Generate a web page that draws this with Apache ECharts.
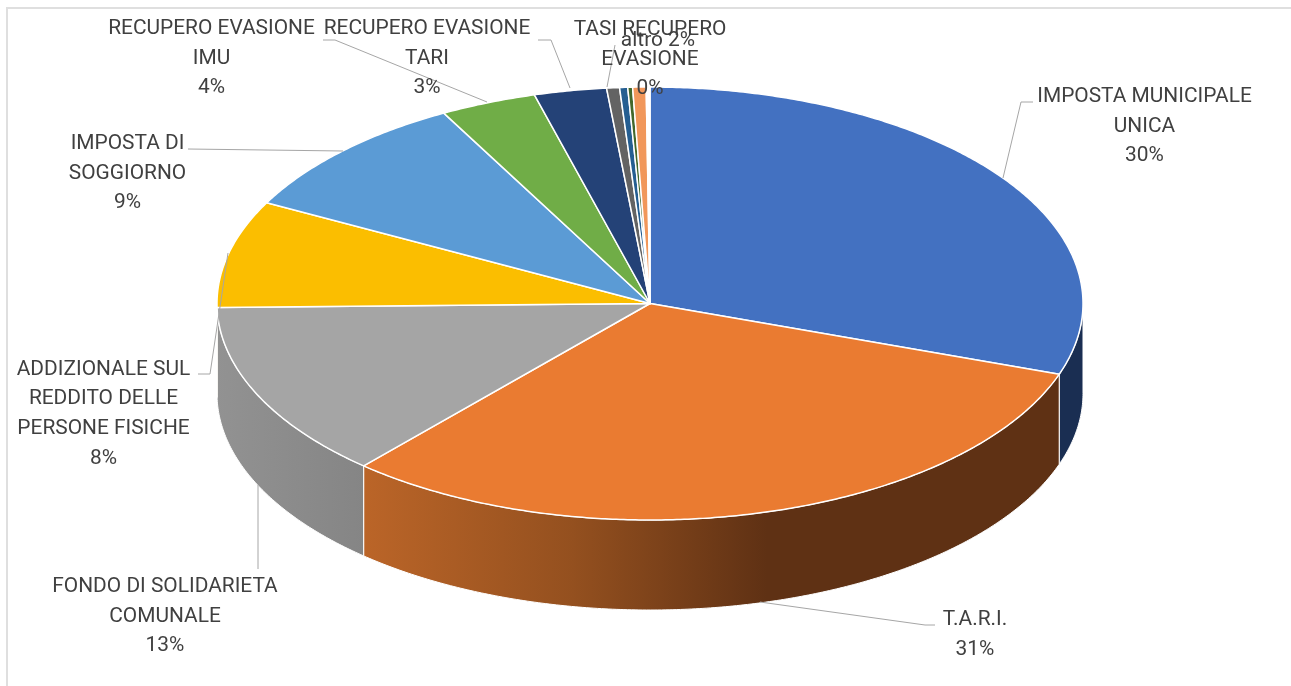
<!DOCTYPE html>
<html>
<head>
<meta charset="utf-8">
<style>html,body{margin:0;padding:0;background:#fff}#c{width:1291px;height:686px}</style>
<script src="https://cdn.jsdelivr.net/npm/echarts@6/dist/echarts.min.js"></script>
</head>
<body>
<div id="c"></div>
<script>
// ---- data (share of the whole pie, %)
const sliceValues = [30.3, 31.2, 13.2, 8.0, 9.4, 3.6, 2.7, 0.48, 0.3, 0.18, 0.5, 0.14];
const sliceNames = [
  'IMPOSTA MUNICIPALE\nUNICA', 'T.A.R.I.', 'FONDO DI SOLIDARIETA\nCOMUNALE',
  'ADDIZIONALE SUL\nREDDITO DELLE\nPERSONE FISICHE', 'IMPOSTA DI\nSOGGIORNO',
  'RECUPERO EVASIONE\nIMU', 'RECUPERO EVASIONE\nTARI', 'altro', '', '', 'TASI RECUPERO\nEVASIONE', ''
];
const percentLabels = ['30%', '31%', '13%', '8%', '9%', '4%', '3%', '2%', '', '', '0%', ''];

// ---- styles and layout, kept apart from the data
const topColors = ['#4371c1', '#ea7b31', '#a5a5a5', '#fbbe00', '#5b9bd5', '#70ad47', '#244277', '#636363', '#255e91', '#43682b', '#f1975a', '#ffffff'];
const wallFills = {
  0: '#1a2e52',
  1: { type: 'linear', x: 0, y: 0, x2: 1, y2: 0, colorStops: [
    { offset: 0, color: '#bb6528' }, { offset: 0.3, color: '#94501f' }, { offset: 0.58, color: '#5f3114' }, { offset: 1, color: '#5f3114' }] },
  2: { type: 'linear', x: 0, y: 0, x2: 1, y2: 0, colorStops: [
    { offset: 0, color: '#929292' }, { offset: 1, color: '#858585' }] }
};
const PIE = { cx: 650, cy: 303.5, rx: 433, ry: 216.5, depth: 90 };
const labelCenters = [
  [1144.5, 126.5], [975, 634.5], [165, 616.5], [103.5, 414], [127.5, 173.5], [211.5, 58.5], [427, 58.5], [658, 40.5], null, null, [650, 59.5], null
];
const leaders = [
  [[1003, 178], [1021, 102], [1033, 102]],
  [[760, 602], [925, 625], [935, 625]],
  [[258, 485], [258, 569]],
  [[198, 374], [210, 374], [228, 253]],
  [[188, 149], [343, 151]],
  [[487, 102], [335, 40], [323, 40]],
  [[570, 88], [551, 40], [538, 40]],
  [[607, 87], [615, 45]]
];
const FONT = '20.9px Roboto, sans-serif';
const TEXT_COLOR = '#404040';

// ---- geometry: cumulative fractions from the values
const total = sliceValues.reduce((a, b) => a + b, 0);
let run = 0;
const sliceRows = sliceValues.map((v, i) => {
  const row = [i, run / total * 360, (run + v) / total * 360];
  run += v;
  return row;
});
// angle in degrees, clockwise from 12 o'clock, projected onto the tilted ellipse
function pt(deg, dy) {
  const a = deg * Math.PI / 180;
  return [PIE.cx + PIE.rx * Math.sin(a), PIE.cy - PIE.ry * Math.cos(a) + (dy || 0)];
}
function arc(a0, a1, dy) {
  const out = [];
  const n = Math.max(2, Math.ceil(Math.abs(a1 - a0) * 2));
  for (let k = 0; k <= n; k++) out.push(pt(a0 + (a1 - a0) * k / n, dy));
  return out;
}

const chart = echarts.init(document.getElementById('c'), null, { renderer: 'canvas' });
chart.setOption({
  animation: false,
  backgroundColor: '#ffffff',
  graphic: [
    { type: 'line', shape: { x1: 7, y1: 8, x2: 1291, y2: 8 }, style: { stroke: '#dfdfdf', lineWidth: 2 }, z: 0 },
    { type: 'line', shape: { x1: 7, y1: 7, x2: 7, y2: 686 }, style: { stroke: '#dfdfdf', lineWidth: 2 }, z: 0 }
  ],
  series: [
    { // side walls: only the front half of the disc shows
      type: 'custom', coordinateSystem: 'none', silent: true, z: 2, data: sliceRows,
      renderItem(p, api) {
        const i = api.value(0);
        const a0 = Math.max(api.value(1), 90), a1 = Math.min(api.value(2), 270);
        if (a1 <= a0) return { type: 'group', children: [] };
        const points = arc(a0, a1, 0).concat(arc(a1, a0, PIE.depth));
        return { type: 'polygon', shape: { points }, style: { fill: wallFills[i] || topColors[i], stroke: '#ffffff', lineWidth: 1 } };
      }
    },
    { // top faces
      type: 'custom', coordinateSystem: 'none', silent: true, z: 3, data: sliceRows,
      renderItem(p, api) {
        const i = api.value(0);
        const points = [[PIE.cx, PIE.cy]].concat(arc(api.value(1), api.value(2), 0));
        return { type: 'polygon', shape: { points }, style: { fill: topColors[i], stroke: '#ffffff', lineWidth: 1.5, lineJoin: 'round' } };
      }
    },
    { // leader lines
      type: 'custom', coordinateSystem: 'none', silent: true, z: 4, data: sliceRows,
      renderItem(p, api) {
        const l = leaders[api.value(0)];
        if (!l) return { type: 'group', children: [] };
        return { type: 'polyline', shape: { points: l }, style: { fill: 'none', stroke: '#a6a6a6', lineWidth: 1 } };
      }
    },
    { // labels
      type: 'custom', coordinateSystem: 'none', silent: true, z: 5, data: sliceRows,
      renderItem(p, api) {
        const i = api.value(0), c = labelCenters[i];
        if (!c) return { type: 'group', children: [] };
        const sep = sliceNames[i] === 'altro' ? ' ' : '\n';
        return {
          type: 'text', x: c[0], y: c[1],
          style: { text: sliceNames[i] + sep + percentLabels[i], font: FONT, fill: TEXT_COLOR, align: 'center', verticalAlign: 'middle', lineHeight: 29.7 }
        };
      }
    }
  ]
});
</script>
</body>
</html>
